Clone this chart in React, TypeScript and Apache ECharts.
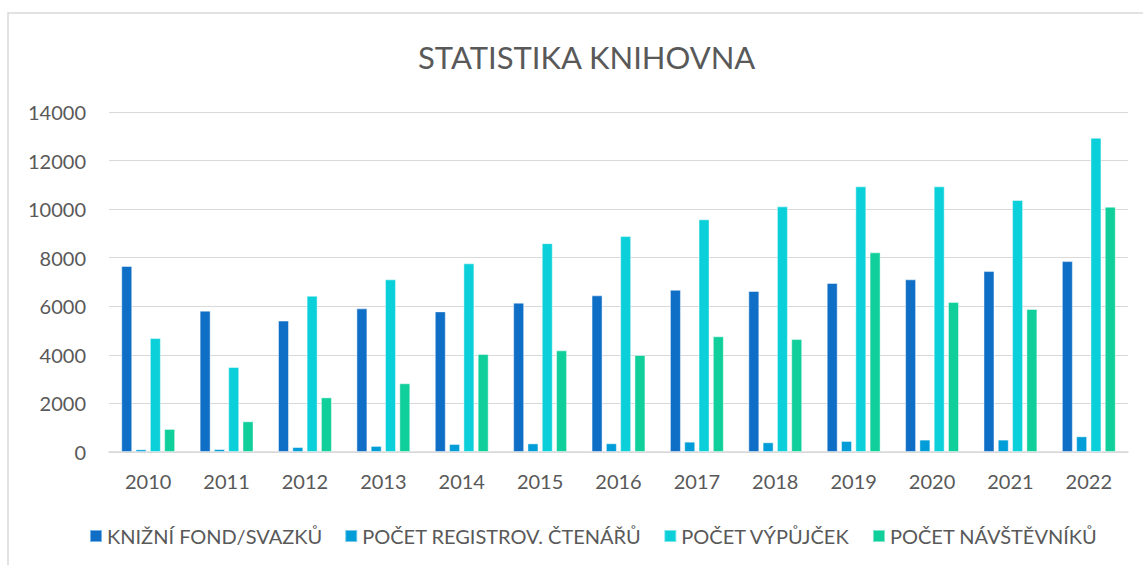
import React, { useEffect, useRef } from "react";
import * as echarts from "echarts";

const years = ["2010", "2011", "2012", "2013", "2014", "2015", "2016", "2017", "2018", "2019", "2020", "2021", "2022"];
const seriesNames = ["KNIŽNÍ FOND/SVAZKŮ", "POČET REGISTROV. ČTENÁŘŮ", "POČET VÝPŮJČEK", "POČET NÁVŠTĚVNÍKŮ"];
const fond = [7660, 5820, 5410, 5915, 5790, 6150, 6450, 6680, 6630, 6960, 7110, 7450, 7860];
const ctenari = [110, 120, 205, 250, 330, 355, 360, 425, 400, 455, 510, 510, 645];
const vypujcky = [4690, 3500, 6435, 7110, 7770, 8600, 8890, 9580, 10115, 10940, 10940, 10375, 12940];
const navstevnici = [950, 1265, 2250, 2830, 4035, 4185, 3995, 4765, 4650, 8220, 6175, 5890, 10100];
const colors = ["#0F6FC6", "#009DD9", "#0BD0D9", "#10CF9B"];

export default function App() {
  const ref = useRef<HTMLDivElement>(null);
  useEffect(() => {
    if (!ref.current) return;
    const chart = echarts.init(ref.current, null, { renderer: "svg" });
    const font = "Lato, 'Open Sans', sans-serif";
    const data = [fond, ctenari, vypujcky, navstevnici];
    chart.setOption({
      animation: false,
      color: colors,
      graphic: [
        {
          type: "rect",
          shape: { x: 8, y: 13, width: 1200, height: 600 },
          style: { fill: "none", stroke: "#d9d9d9", lineWidth: 1.5 },
          silent: true,
        },
      ],
      title: {
        text: "STATISTIKA KNIHOVNA",
        left: 413,
        top: 36,
        textStyle: { fontFamily: font, fontSize: 31, fontWeight: "normal", color: "#595959" },
      },
      legend: {
        bottom: 14,
        left: 84,
        itemWidth: 12,
        itemHeight: 12,
        itemGap: 22,
        icon: "rect",
        textStyle: { fontFamily: font, fontSize: 20, color: "#595959" },
        data: seriesNames,
      },
      grid: { left: 109, right: 15, top: 112, bottom: 113, containLabel: false },
      xAxis: {
        type: "category",
        data: years,
        axisLine: { lineStyle: { color: "#d9d9d9", width: 1.5 } },
        axisTick: { show: false },
        axisLabel: { fontFamily: font, fontSize: 20, color: "#595959", margin: 19 },
      },
      yAxis: {
        type: "value",
        min: 0,
        max: 14000,
        interval: 2000,
        axisLine: { show: false },
        axisTick: { show: false },
        splitLine: { lineStyle: { color: "#d9d9d9", width: 1.2 } },
        axisLabel: {
          fontFamily: font,
          fontSize: 20,
          color: "#595959",
          margin: 23,
          formatter: (v: number) => String(v),
        },
      },
      series: seriesNames.map((name, i) => ({
        name,
        type: "bar",
        data: data[i],
        barWidth: 11,
        barGap: "30%",
        itemStyle: { color: colors[i], borderColor: "rgba(255,255,255,0.45)", borderWidth: 1 },
      })),
    });
    return () => chart.dispose();
  }, []);
  return <div ref={ref} style={{ position: "fixed", left: 0, top: 0, width: 1143, height: 565, background: "#fff" }} />;
}
